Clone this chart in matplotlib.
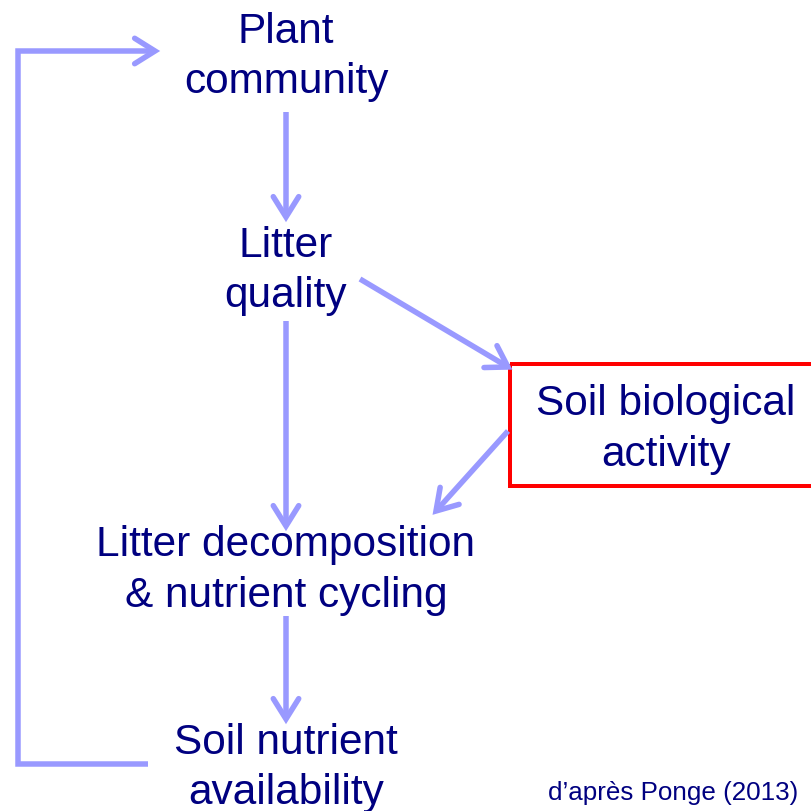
import numpy as np
import matplotlib
matplotlib.use("Agg")
import matplotlib.pyplot as plt
from matplotlib.patches import Rectangle

# ---- content ----
node_labels = [
    ["Plant", "community"],
    ["Litter", "quality"],
    ["Soil biological", "activity"],
    ["Litter decomposition", "& nutrient cycling"],
    ["Soil nutrient", "availability"],
]
citation = "d\u2019apr\u00e8s Ponge (2013)"

# ---- layout (pixel space, y down) ----
node_x = [286, 286, 666, 286, 286]
node_baselines = [[43, 93], [257, 307], [415, 466], [556, 607], [754, 804]]

arrows = [
    [(286, 113), (286, 218)],
    [(286, 322), (286, 527)],
    [(286, 617), (286, 720)],
    [(360, 280), (508, 368)],
    [(508, 432), (436, 512)],
    [(148, 765), (18, 765), (18, 52), (155, 52)],
]

TEXT_COLOR = "#000080"
ARROW_COLOR = "#9999FF"
FONT = ["Liberation Sans", "DejaVu Sans"]

fig = plt.figure(figsize=(8.11, 8.12), dpi=100)
ax = fig.add_axes([0, 0, 1, 1])
ax.set_xlim(0, 811)
ax.set_ylim(812, 0)
ax.axis("off")

px = 72 / 100.0  # points per pixel
lw = 5.5 * px

def draw_arrow(pts, head_len=24, half_angle=np.deg2rad(32)):
    xs = [p[0] for p in pts]
    ys = [p[1] for p in pts]
    ax.plot(xs, ys, color=ARROW_COLOR, lw=lw, solid_capstyle="butt",
            solid_joinstyle="miter")
    (x0, y0), (x1, y1) = pts[-2], pts[-1]
    ang = np.arctan2(y1 - y0, x1 - x0)
    w1 = (x1 - head_len * np.cos(ang - half_angle), y1 - head_len * np.sin(ang - half_angle))
    w2 = (x1 - head_len * np.cos(ang + half_angle), y1 - head_len * np.sin(ang + half_angle))
    ax.plot([w1[0], x1, w2[0]], [w1[1], y1, w2[1]], color=ARROW_COLOR, lw=lw,
            solid_capstyle="round", solid_joinstyle="miter")

for pts in arrows:
    draw_arrow(pts)

ax.add_patch(Rectangle((510, 365), 320, 122, fill=False, edgecolor="#FF0000",
                       lw=4 * px, joinstyle="miter", clip_on=True))

for lines, x, bls in zip(node_labels, node_x, node_baselines):
    for line, b in zip(lines, bls):
        ax.text(x, b, line, ha="center", va="baseline", fontsize=30.5,
                color=TEXT_COLOR, family=FONT)

ax.text(798, 800, citation, ha="right", va="baseline", fontsize=18.7,
        color=TEXT_COLOR, family=FONT)

fig.savefig("out.png", dpi=100)
